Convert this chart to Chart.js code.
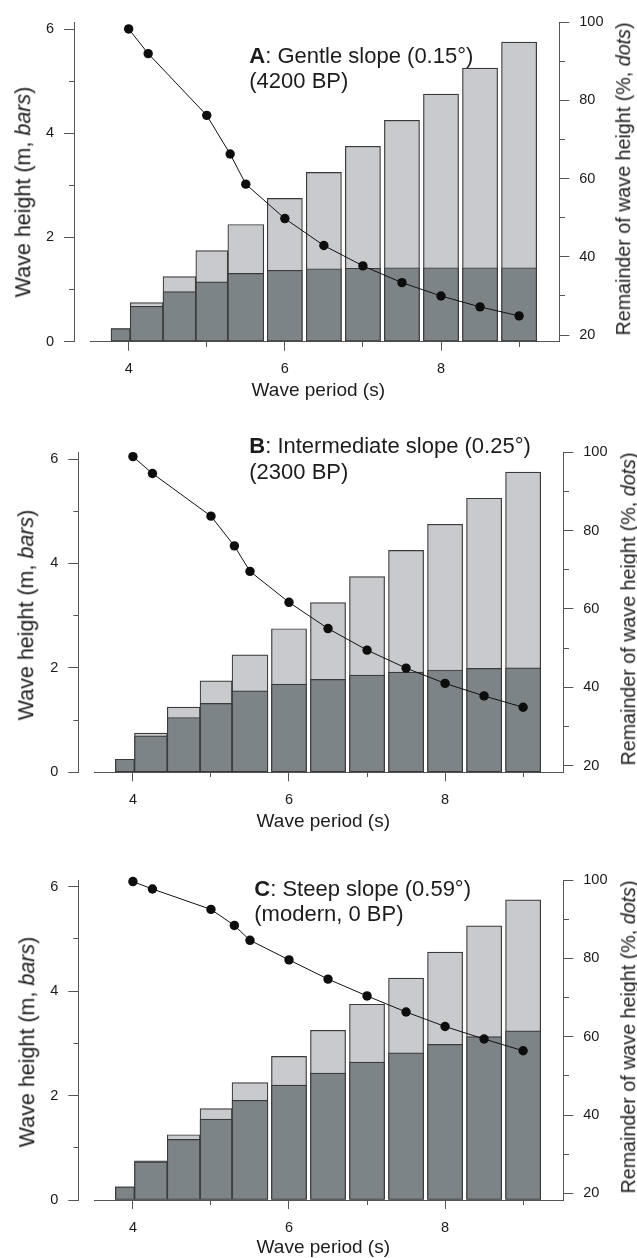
<!DOCTYPE html>
<html>
<head>
<meta charset="utf-8">
<script src="https://cdn.jsdelivr.net/npm/chart.js@4.4.1/dist/chart.umd.min.js"></script>
<style>
  html, body { margin: 0; padding: 0; background: #fff; }
  #fig { position: relative; width: 637px; height: 1258px; overflow: hidden; background: #fff;
         font-family: 'Liberation Sans', Arial, Helvetica, sans-serif; color: #1c1c1c; }
  #fig canvas { position: absolute; left: 0; }
  .lbl { position: absolute; white-space: nowrap; line-height: 1; }
  .rot { transform: translate(-50%, -50%) rotate(-90deg); }
  .ctr { transform: translate(-50%, -50%); }
  .ttl { position: absolute; white-space: nowrap; font-size: 22px; line-height: 25.5px; }
</style>
</head>
<body>
<div id="fig"></div>
<script>
// Wave period (s) of each modelled case
const periods = [4, 4.25, 5, 5.3, 5.5, 6, 6.5, 7, 7.5, 8, 8.5, 9];
// Period bin (s) occupied by the bar of each case
const binStart = [3.775, 4.02, 4.44, 4.86, 5.27, 5.775, 6.275, 6.775, 7.275, 7.775, 8.275, 8.775];
const binEnd   = [4.02, 4.44, 4.86, 5.27, 5.73, 6.225, 6.725, 7.225, 7.725, 8.225, 8.725, 9.225];
// Offshore wave height (m), light bars
const incidentHeight = [0.25, 0.75, 1.25, 1.75, 2.25, 2.75, 3.25, 3.75, 4.25, 4.75, 5.25, 5.75];
// Wave height reaching the shore (m), dark bars
const shoreHeightA = [0.25, 0.68, 0.96, 1.15, 1.31, 1.37, 1.40, 1.41, 1.42, 1.42, 1.42, 1.42];
const shoreHeightB = [0.25, 0.70, 1.05, 1.32, 1.56, 1.69, 1.78, 1.86, 1.92, 1.96, 1.99, 2.00];
const shoreHeightC = [0.25, 0.73, 1.16, 1.55, 1.91, 2.20, 2.43, 2.64, 2.82, 2.98, 3.13, 3.24];
// Remainder of wave height (%), dots
const remainderA = [98.3, 92.0, 76.2, 66.3, 58.6, 49.8, 42.9, 37.7, 33.4, 30.0, 27.2, 24.9];
const remainderB = [98.9, 94.6, 83.7, 76.1, 69.6, 61.7, 55.0, 49.5, 44.9, 41.0, 37.8, 34.9];
const remainderC = [99.6, 97.7, 92.5, 88.4, 84.6, 79.6, 74.7, 70.4, 66.3, 62.6, 59.4, 56.4];
// Labelled ticks
const periodTickLabels = [4, 6, 8];
const heightTickLabels = [0, 2, 4, 6];
const remainderTickLabels = [20, 40, 60, 80, 100];

const W = 637;
const AXIS = '#555555';
const TEXT = '#1a1a1a';
const LIGHT = '#c9cacd';
const DARK = '#7d8487';
const EDGE = '#3a3a3a';

const panels = [
  { top: 0, height: 410, plot: { left: 74, right: 559.3, top: 22.3, bottom: 341.7 },
    shore: shoreHeightA, remainder: remainderA,
    title: '<b>A</b>: Gentle slope (0.15°)<br>(4200 BP)', titleAt: [249.3, 42.6],
    yTitleAt: [24, 192], y2TitleAt: [624.4, 178.7], xTitleAt: [318.3, 388.5] },
  { top: 410, height: 420, plot: { left: 78.3, right: 563.3, top: 452.3, bottom: 772.3 },
    shore: shoreHeightB, remainder: remainderB,
    title: '<b>B</b>: Intermediate slope (0.25°)<br>(2300 BP)', titleAt: [249.3, 433.1],
    yTitleAt: [27, 615], y2TitleAt: [628.5, 609], xTitleAt: [323.3, 820] },
  { top: 830, height: 428, plot: { left: 78.3, right: 563.3, top: 880, bottom: 1200 },
    shore: shoreHeightC, remainder: remainderC,
    title: '<b>C</b>: Steep slope (0.59°)<br>(modern, 0 BP)', titleAt: [254.3, 875.6],
    yTitleAt: [28, 1042], y2TitleAt: [628.5, 1036.7], xTitleAt: [323.3, 1246] }
];

Chart.defaults.font.family = "'Liberation Sans', Arial, Helvetica, sans-serif";
Chart.defaults.font.size = 14;
Chart.defaults.color = TEXT;

const fig = document.getElementById('fig');

function addText(html, x, y, size, cls) {
  const d = document.createElement('div');
  d.className = 'lbl ' + cls;
  d.style.left = x + 'px';
  d.style.top = y + 'px';
  d.style.fontSize = size + 'px';
  d.innerHTML = html;
  fig.appendChild(d);
}

// one bar per case; its thickness follows the width of its period bin on the x scale
function barDataset(i, values, fill, order) {
  return {
    type: 'bar',
    xAxisID: 'x',
    yAxisID: 'y',
    data: [{ x: (binStart[i] + binEnd[i]) / 2, y: values[i] }],
    grouped: false,
    barThickness: ctx => {
      const sx = ctx.chart.scales.x;
      return Math.abs(sx.getPixelForValue(binEnd[i]) - sx.getPixelForValue(binStart[i]));
    },
    backgroundColor: fill,
    borderColor: EDGE,
    borderWidth: 1.2,
    borderSkipped: false,
    order: order
  };
}

panels.forEach(p => {
  const canvas = document.createElement('canvas');
  canvas.width = W;
  canvas.height = p.height;
  canvas.style.top = p.top + 'px';
  fig.appendChild(canvas);

  const datasets = [];
  periods.forEach((_, i) => datasets.push(barDataset(i, incidentHeight, LIGHT, 3)));
  periods.forEach((_, i) => datasets.push(barDataset(i, p.shore, DARK, 2)));
  datasets.push({
    type: 'line',
    xAxisID: 'x',
    yAxisID: 'y2',
    data: periods.map((t, i) => ({ x: t, y: p.remainder[i] })),
    borderColor: '#111',
    borderWidth: 1,
    tension: 0,
    pointRadius: 4.7,
    pointBorderWidth: 0,
    pointBackgroundColor: '#0d0d0d',
    pointBorderColor: '#0d0d0d',
    clip: false,
    order: 1
  });

  const plotBottom = p.plot.bottom - p.top;

  new Chart(canvas, {
    type: 'bar',
    data: { datasets },
    options: {
      responsive: false,
      animation: false,
      devicePixelRatio: 1,
      events: [],
      layout: { autoPadding: false, padding: { top: p.plot.top - p.top, left: 0, right: 0, bottom: 0 } },
      plugins: { legend: { display: false }, tooltip: { enabled: false }, title: { display: false } },
      scales: {
        x: {
          type: 'linear', position: 'bottom', min: 3.3, max: 9.515, offset: false,
          afterFit: s => { s.height = p.height - plotBottom; },
          border: { display: false },
          grid: {
            display: true, drawOnChartArea: false, offset: false,
            tickLength: 9, tickWidth: 1, tickColor: AXIS,
            tickBorderDash: c => periodTickLabels.includes(c.tick && c.tick.value) ? [] : [5, 50]
          },
          ticks: {
            stepSize: 1, includeBounds: false, autoSkip: false, maxRotation: 0, minRotation: 0,
            padding: 10, color: TEXT, font: { size: 14.5 },
            callback: v => periodTickLabels.includes(v) ? String(v) : ''
          }
        },
        y: {
          type: 'linear', position: 'left', min: 0, max: 6.13,
          afterFit: s => { s.width = p.plot.left; },
          border: { display: true, color: AXIS, width: 1, dash: [0, 15, 1000, 0] },
          grid: {
            display: true, drawOnChartArea: true, lineWidth: 1,
            color: c => (c.tick && c.tick.value === 0) ? AXIS : 'rgba(0,0,0,0)',
            tickLength: 10, tickWidth: 1, tickColor: AXIS,
            tickBorderDash: c => heightTickLabels.includes(c.tick && c.tick.value) ? [] : [5, 5],
            tickBorderDashOffset: c => heightTickLabels.includes(c.tick && c.tick.value) ? 0 : 5
          },
          ticks: {
            stepSize: 1, includeBounds: false, padding: 10, color: TEXT, font: { size: 14.5 },
            callback: v => heightTickLabels.includes(v) ? String(v) : ''
          }
        },
        y2: {
          type: 'linear', position: 'right', min: 18.3, max: 100,
          afterFit: s => { s.width = W - p.plot.right; },
          border: { display: true, color: AXIS, width: 1 },
          grid: {
            display: true, drawOnChartArea: false,
            tickLength: 10, tickWidth: 1, tickColor: AXIS,
            tickBorderDash: c => remainderTickLabels.includes(c.tick && c.tick.value) ? [] : [5, 50]
          },
          ticks: {
            stepSize: 10, includeBounds: false, padding: 10, color: TEXT, font: { size: 14.5 },
            callback: v => remainderTickLabels.includes(v) ? String(v) : ''
          }
        }
      }
    }
  });

  // panel heading and axis titles
  const t = document.createElement('div');
  t.className = 'ttl';
  t.style.left = p.titleAt[0] + 'px';
  t.style.top = p.titleAt[1] + 'px';
  t.innerHTML = p.title;
  fig.appendChild(t);

  addText('Wave height (m, <i>bars</i>)', p.yTitleAt[0], p.yTitleAt[1], 21.5, 'rot');
  addText('Remainder of wave height (%, <i>dots</i>)', p.y2TitleAt[0], p.y2TitleAt[1], 19.7, 'rot');
  addText('Wave period (s)', p.xTitleAt[0], p.xTitleAt[1], 19, 'ctr');
});
</script>
</body>
</html>
